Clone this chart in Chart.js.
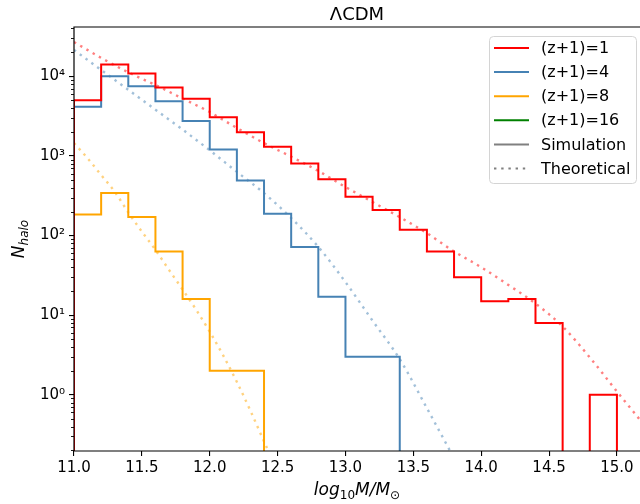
<!DOCTYPE html>
<html>
<head>
<meta charset="utf-8">
<script src="https://cdn.jsdelivr.net/npm/chart.js@4.4.0/dist/chart.umd.min.js"></script>
<style>
  html, body { margin: 0; padding: 0; background: #fff; }
  canvas { display: block; }
</style>
</head>
<body>
<canvas id="hmf" width="640" height="504"></canvas>
<script>
// histogram bin edges, log10 M/Msun
const binEdges = [11.0, 11.2, 11.4, 11.6, 11.8, 12.0, 12.2, 12.4, 12.6, 12.8, 13.0,
  13.2, 13.4, 13.6, 13.8, 14.0, 14.2, 14.4, 14.6, 14.8, 15.0];

// simulated halo counts per bin
const simZ1 = [5000, 14000, 10800, 7200, 5200, 3060, 1980, 1300, 800, 510,
  307, 209, 118, 63, 30, 15, 16, 8, 0, 1];
const simZ4 = [4150, 10000, 7500, 4860, 2750, 1200, 492, 188, 72, 17,
  3, 3, 0, 0, 0, 0, 0, 0, 0, 0];
const simZ8 = [184, 341, 171, 63, 16, 2, 2, 0, 0, 0,
  0, 0, 0, 0, 0, 0, 0, 0, 0, 0];
const simZ16 = [0, 0, 0, 0, 0, 0, 0, 0, 0, 0,
  0, 0, 0, 0, 0, 0, 0, 0, 0, 0];

// theoretical mass function, sampled
const thMassZ1 = [11.0, 11.2, 11.4, 11.6, 11.8, 12.0, 12.2, 12.4, 12.6, 12.8, 13.0,
  13.2, 13.4, 13.6, 13.8, 14.0, 14.2, 14.4, 14.6, 14.8, 15.0, 15.2];
const thZ1 = [26900, 17000, 11200, 7760, 5250, 3550, 2240, 1445, 977, 646, 407,
  263, 170, 107, 63, 40, 24, 14, 7.2, 2.95, 1.1, 0.42];
const thMassZ4 = [11.0, 11.2, 11.4, 11.6, 11.8, 12.0, 12.2, 12.4, 12.6, 12.8, 13.0,
  13.2, 13.4, 13.6, 13.8];
const thZ4 = [21400, 12000, 6760, 3800, 2140, 1175, 630, 340, 166, 72, 26,
  8.5, 2.8, 0.68, 0.16];
const thMassZ8 = [11.0, 11.1, 11.2, 11.3, 11.4, 11.5, 11.6, 11.7, 11.8, 11.9, 12.0,
  12.1, 12.2, 12.3, 12.4, 12.5];
const thZ8 = [1445, 933, 575, 355, 195, 112, 66, 37, 21, 11.7, 6.2,
  3.1, 1.45, 0.63, 0.26, 0.11];

const xTicks = [11.0, 11.5, 12.0, 12.5, 13.0, 13.5, 14.0, 14.5, 15.0];
const yTicks = [1, 10, 100, 1000, 10000];
const yTickLabels = ['10\u2070', '10\u00b9', '10\u00b2', '10\u00b3', '10\u2074'];
const legendLabels = ['(z+1)=1', '(z+1)=4', '(z+1)=8', '(z+1)=16', 'Simulation', 'Theoretical'];

const RED = '#ff0000', BLUE = '#4682b4', ORANGE = '#ffa500', GREEN = '#008000', GRAY = '#808080';
const FONT = "'DejaVu Sans', sans-serif";
const DOTS = [2.4, 4.8];
// empty bins fall off the bottom of the log axis
const FLOOR = 1e-3;

function stepPoints(counts) {
  const pts = [{ x: binEdges[0], y: FLOOR }];
  counts.forEach((c, i) => pts.push({ x: binEdges[i], y: c > 0 ? c : FLOOR }));
  pts.push({ x: binEdges[binEdges.length - 1], y: FLOOR });
  return pts;
}

function curvePoints(xs, ys) {
  return xs.map((x, i) => ({ x: x, y: ys[i] }));
}

function fade(hex, a) {
  const n = parseInt(hex.slice(1), 16);
  return `rgba(${n >> 16},${(n >> 8) & 255},${n & 255},${a})`;
}

function simSet(counts, color) {
  return { data: stepPoints(counts), borderColor: color, borderWidth: 2, stepped: 'before', pointRadius: 0 };
}

function theorySet(xs, ys, color) {
  return {
    data: curvePoints(xs, ys), borderColor: fade(color, 0.5), borderWidth: 2.4,
    borderDash: DOTS, cubicInterpolationMode: 'monotone', pointRadius: 0
  };
}

// draws a run of text pieces (italic / sub-scripted) starting at x
function drawRuns(ctx, runs, cx, baseY) {
  const font = r => `${r.it ? 'italic ' : ''}${r.size}px ${FONT}`;
  let total = 0;
  runs.forEach(r => { ctx.font = font(r); total += ctx.measureText(r.t).width; });
  let x = cx - total / 2;
  ctx.textAlign = 'left';
  ctx.textBaseline = 'alphabetic';
  runs.forEach(r => {
    ctx.font = font(r);
    ctx.fillText(r.t, x, baseY + (r.dy || 0));
    x += ctx.measureText(r.t).width;
  });
}

const decorations = {
  id: 'decorations',
  afterDatasetsDraw(chart) {
    const { ctx, chartArea: a, scales: { y } } = chart;
    ctx.save();
    ctx.strokeStyle = '#000';
    ctx.fillStyle = '#000';

    // minor ticks on the log axis
    ctx.lineWidth = 0.9;
    for (let e = -1; e <= 4; e++) {
      for (let k = 2; k <= 9; k++) {
        const v = k * Math.pow(10, e);
        if (v < y.min || v > y.max) continue;
        const py = Math.round(y.getPixelForValue(v)) + 0.5;
        ctx.beginPath();
        ctx.moveTo(a.left - 3, py);
        ctx.lineTo(a.left, py);
        ctx.stroke();
      }
    }

    // axes frame
    ctx.lineWidth = 1.2;
    ctx.beginPath();
    ctx.moveTo(a.left, a.bottom);
    ctx.lineTo(a.left, a.top);
    ctx.lineTo(a.right, a.top);
    ctx.moveTo(a.left, a.bottom);
    ctx.lineTo(a.right, a.bottom);
    ctx.stroke();

    // title
    ctx.font = `18px ${FONT}`;
    ctx.textAlign = 'center';
    ctx.textBaseline = 'alphabetic';
    ctx.fillText('\u039bCDM', (a.left + a.right) / 2, 20);

    // axis labels
    drawRuns(ctx, [
      { t: 'log', it: true, size: 17 },
      { t: '10', size: 12, dy: 4 },
      { t: 'M/M', it: true, size: 17 },
      { t: '\u2299', size: 12, dy: 4 }
    ], (a.left + a.right) / 2, 495);

    ctx.save();
    ctx.translate(24, (a.top + a.bottom) / 2);
    ctx.rotate(-Math.PI / 2);
    drawRuns(ctx, [
      { t: 'N', it: true, size: 17 },
      { t: 'halo', it: true, size: 12, dy: 4 }
    ], 0, 0);
    ctx.restore();

    // legend
    const styles = [
      { c: RED }, { c: BLUE }, { c: ORANGE }, { c: GREEN }, { c: GRAY },
      { c: GRAY, dash: DOTS }
    ];
    const bx = 489.5, by = 36.5, bw = 147, bh = 147, r = 4;
    ctx.beginPath();
    ctx.moveTo(bx + r, by);
    ctx.arcTo(bx + bw, by, bx + bw, by + bh, r);
    ctx.arcTo(bx + bw, by + bh, bx, by + bh, r);
    ctx.arcTo(bx, by + bh, bx, by, r);
    ctx.arcTo(bx, by, bx + bw, by, r);
    ctx.closePath();
    ctx.fillStyle = 'rgba(255,255,255,0.8)';
    ctx.fill();
    ctx.strokeStyle = '#d4d4d4';
    ctx.lineWidth = 1;
    ctx.stroke();

    ctx.font = `16px ${FONT}`;
    ctx.textAlign = 'left';
    ctx.textBaseline = 'middle';
    legendLabels.forEach((lab, i) => {
      const ly = 48 + i * 24.1;
      const s = styles[i];
      ctx.strokeStyle = s.c;
      ctx.lineWidth = 2;
      ctx.setLineDash(s.dash || []);
      ctx.beginPath();
      ctx.moveTo(494, ly);
      ctx.lineTo(529, ly);
      ctx.stroke();
      ctx.setLineDash([]);
      ctx.fillStyle = '#000';
      ctx.fillText(lab, 541, ly + 1);
    });

    ctx.restore();
  }
};

new Chart(document.getElementById('hmf'), {
  type: 'line',
  data: {
    datasets: [
      simSet(simZ1, RED),
      simSet(simZ4, BLUE),
      simSet(simZ8, ORANGE),
      simSet(simZ16, GREEN),
      theorySet(thMassZ1, thZ1, RED),
      theorySet(thMassZ4, thZ4, BLUE),
      theorySet(thMassZ8, thZ8, ORANGE)
    ]
  },
  options: {
    responsive: false,
    animation: false,
    devicePixelRatio: 1,
    layout: { padding: { top: 27, left: 0, right: 0, bottom: 0 } },
    plugins: { legend: { display: false }, tooltip: { enabled: false } },
    scales: {
      x: {
        type: 'linear',
        min: 11,
        max: 15.17,
        afterBuildTicks: s => { s.ticks = xTicks.map(v => ({ value: v })); },
        afterFit: s => { s.height = 53; },
        grid: { drawOnChartArea: false, tickLength: 5, color: '#000', lineWidth: 1.1 },
        border: { display: false },
        ticks: {
          color: '#000', font: { family: FONT, size: 15 }, padding: 3, maxRotation: 0,
          callback: v => Number(v).toFixed(1)
        }
      },
      y: {
        type: 'logarithmic',
        min: 0.197,
        max: 41500,
        afterBuildTicks: s => { s.ticks = yTicks.map(v => ({ value: v, major: true })); },
        afterFit: s => { s.width = 74; },
        grid: { drawOnChartArea: false, tickLength: 5, color: '#000', lineWidth: 1.1 },
        border: { display: false },
        ticks: {
          color: '#000', font: { family: FONT, size: 15 }, padding: 4,
          callback: v => yTickLabels[yTicks.indexOf(v)]
        }
      }
    }
  },
  plugins: [decorations]
});
</script>
</body>
</html>
